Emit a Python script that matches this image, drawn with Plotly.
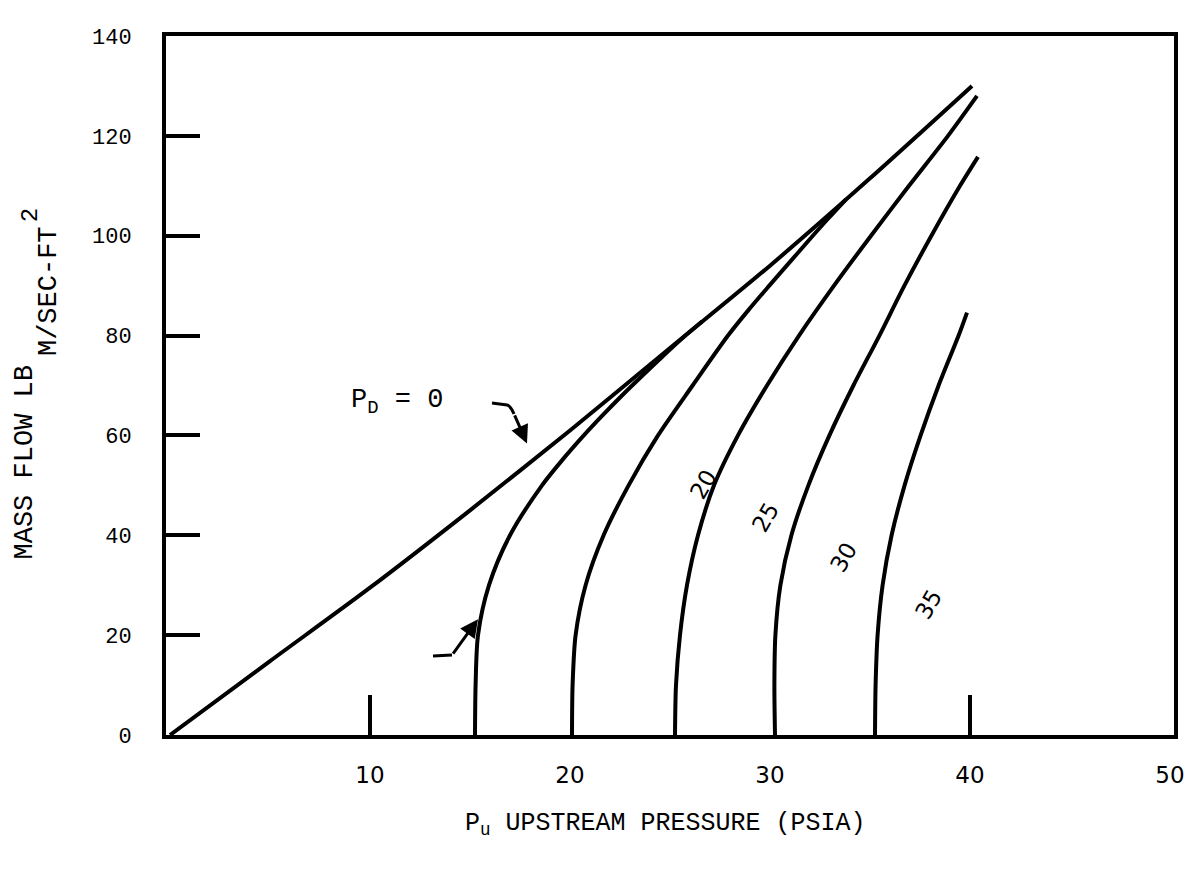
import plotly.graph_objects as go

# ---------------- data ----------------
pd0_x = [0, 5, 10, 15, 20, 25, 30, 35, 40.1]
pd0_y = [0, 14.8, 29.5, 45, 61, 77.5, 94, 111.5, 130]

pd15_x = [15.25, 15.28, 15.4, 15.95, 17.0, 18.6, 19.6, 20.6, 21.6, 22.6, 23.6, 24.6, 25.6, 26.6]
pd15_y = [0, 10, 20, 30, 40, 50, 55, 59.6, 63.9, 68, 71.9, 75.7, 79.4, 82.8]

pd20_x = [20.1, 20.13, 20.28, 20.78, 21.68, 22.93, 24.4, 26.13, 27.9, 28.9, 29.9, 30.9, 31.9, 32.9, 33.8]
pd20_y = [0, 10, 20, 30, 40, 50, 60, 70, 80, 85, 89.7, 94.3, 98.9, 103.4, 107.3]

pd25_x = [25.25, 25.3, 25.5, 25.85, 26.4, 27.2, 28.4, 29.85, 31.45, 33.2, 35.05, 36.95, 38.9, 40.35]
pd25_y = [0, 10, 20, 30, 40, 50, 60, 70, 80, 90, 100, 110, 120, 128]

pd30_x = [30.25, 30.22, 30.27, 30.52, 31.07, 31.92, 32.97, 34.17, 35.47, 36.72, 38.07, 39.5, 40.4]
pd30_y = [0, 10, 20, 30, 40, 50, 60, 70, 80, 90, 100, 110, 115.8]

pd35_x = [35.25, 35.28, 35.38, 35.63, 36.08, 36.73, 37.53, 38.43, 39.43, 39.85]
pd35_y = [0, 10, 20, 30, 40, 50, 60, 70, 80, 84.6]

curve_labels = ["20", "25", "30", "35"]
label_x = [26.65, 29.75, 33.65, 37.9]
label_y = [50.1, 43.5, 35.5, 26.1]

x_tick_vals = [10, 20, 30, 40, 50]
x_tick_text = ["10", "20", "30", "40", "50"]
x_mark_vals = [10, 40]
y_tick_vals = [0, 20, 40, 60, 80, 100, 120, 140]
y_tick_text = ["0", "20", "40", "60", "80", "100", "120", "140"]

# ---------------- figure ----------------
MONO = "Liberation Mono"
SANS = "DejaVu Sans"
LW = 4

fig = go.Figure()
for xs, ys in [(pd0_x, pd0_y), (pd15_x, pd15_y), (pd20_x, pd20_y),
               (pd25_x, pd25_y), (pd30_x, pd30_y), (pd35_x, pd35_y)]:
    fig.add_trace(go.Scatter(x=xs, y=ys, mode="lines",
                             line=dict(color="black", width=LW, shape="spline", smoothing=0.8),
                             showlegend=False, hoverinfo="skip"))

# invisible trace on the overlay axis so it is drawn
fig.add_trace(go.Scatter(x=[10, 40], y=[0, 0], xaxis="x2", mode="markers",
                         marker=dict(opacity=0), showlegend=False, hoverinfo="skip"))

for t, x, y in zip(curve_labels, label_x, label_y):
    fig.add_annotation(x=x, y=y, text=t, showarrow=False, textangle=-60,
                       font=dict(family=SANS, size=23, color="black"))

fig.add_annotation(x=11.35, y=66.7, text="P<sub>D</sub> = 0", showarrow=False,
                   font=dict(family=MONO, size=27, color="black"))

# hooked arrow pointing at the P_D = 0 line
fig.add_shape(type="path", xref="x", yref="y",
              path="M 16.1 66.5 L 16.85 66.1 Q 17.05 65.8 17.2 64.3",
              line=dict(color="black", width=3))
fig.add_annotation(x=17.85, y=58.4, ax=17.2, ay=64.3, axref="x", ayref="y",
                   xref="x", yref="y", text="", showarrow=True,
                   arrowhead=2, arrowsize=1.2, arrowwidth=3, arrowcolor="black")

# hooked arrow pointing at the P_D = 15 curve
fig.add_shape(type="path", xref="x", yref="y",
              path="M 13.15 15.8 L 14.1 16.0",
              line=dict(color="black", width=3))
fig.add_annotation(x=15.4, y=23.2, ax=14.1, ay=16.0, axref="x", ayref="y",
                   xref="x", yref="y", text="", showarrow=True,
                   arrowhead=2, arrowsize=1.2, arrowwidth=3, arrowcolor="black")

# axis titles
fig.add_annotation(xref="paper", yref="paper", x=0.496, y=-0.103, yanchor="top",
                   text="P<sub>u</sub> UPSTREAM PRESSURE (PSIA)", showarrow=False,
                   font=dict(family=MONO, size=25, color="black"))
fig.add_annotation(xref="paper", yref="paper", x=-0.157, y=0.3895,
                   text="MASS FLOW LB", showarrow=False, textangle=-90,
                   font=dict(family=MONO, size=27, color="black"))
fig.add_annotation(xref="paper", yref="paper", x=-0.133, y=0.635,
                   text="M/SEC-FT", showarrow=False, textangle=-90,
                   font=dict(family=MONO, size=27, color="black"))
fig.add_annotation(xref="paper", yref="paper", x=-0.149, y=0.757,
                   text="2", showarrow=False, textangle=-90,
                   font=dict(family=MONO, size=24, color="black"))

fig.update_layout(
    width=1192, height=874,
    margin=dict(l=158, r=26, t=28, b=147),
    paper_bgcolor="white", plot_bgcolor="white",
    xaxis=dict(range=[-0.2, 50.2], showgrid=False, zeroline=False,
               showline=True, linecolor="black", linewidth=LW, mirror=True,
               tickmode="array", tickvals=x_tick_vals, ticktext=x_tick_text,
               ticks="", ticklabelstandoff=16,
               tickfont=dict(family=SANS, size=23, color="black")),
    xaxis2=dict(range=[-0.2, 50.2], overlaying="x", anchor="y", side="bottom",
                showgrid=False, zeroline=False, showline=False,
                tickmode="array", tickvals=x_mark_vals, ticks="inside",
                ticklen=40, tickwidth=4, tickcolor="black", showticklabels=False),
    yaxis=dict(range=[0, 140], showgrid=False, zeroline=False,
               showline=True, linecolor="black", linewidth=LW, mirror=True,
               tickmode="array", tickvals=y_tick_vals, ticktext=y_tick_text,
               ticks="inside", ticklen=34, tickwidth=4, tickcolor="black",
               ticklabelstandoff=26,
               tickfont=dict(family=MONO, size=22, color="black")),
)

fig.write_html("out.html")
